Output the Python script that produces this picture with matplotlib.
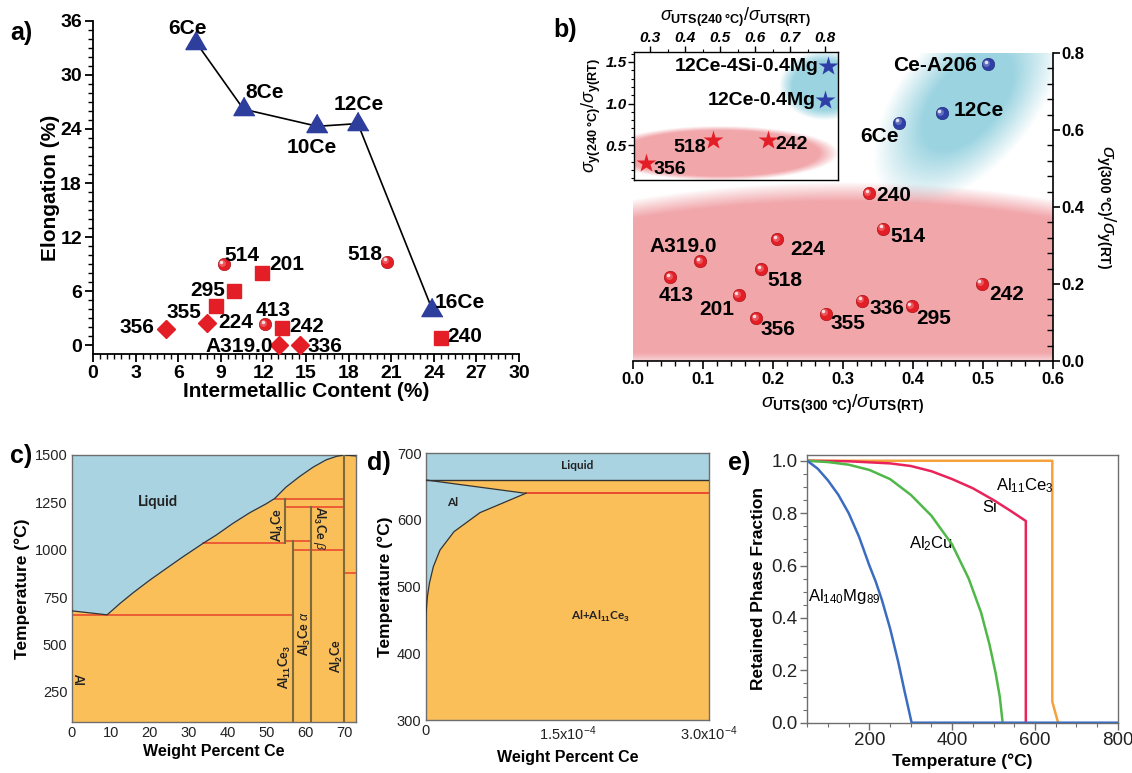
import numpy as np
import matplotlib
matplotlib.use('Agg')
import matplotlib.pyplot as plt
from matplotlib import transforms as mtrans
from matplotlib.ticker import MultipleLocator, FixedLocator

plt.rcParams['font.family'] = ['Liberation Sans', 'DejaVu Sans']
plt.rcParams['mathtext.fontset'] = 'custom'
plt.rcParams['mathtext.rm'] = 'Liberation Sans'
plt.rcParams['mathtext.it'] = 'Liberation Sans:italic'
plt.rcParams['mathtext.bf'] = 'Liberation Sans:bold'
plt.rcParams['mathtext.sf'] = 'Liberation Sans'

# ---------------- data: panel a ----------------
ce_names = ['6Ce', '8Ce', '10Ce', '12Ce', '16Ce']
ce_im = [7.27, 10.6, 15.8, 18.65, 23.9]
ce_el = [33.6, 26.2, 24.3, 24.6, 3.9]

circ_names = ['514', '518', '413']
circ_im = [9.2, 20.7, 12.1]
circ_el = [9.0, 9.26, 2.33]

sq_names = ['201', '295', '224', '242', '240']
sq_im = [11.9, 9.93, 8.67, 13.3, 24.5]
sq_el = [8.0, 6.04, 4.33, 1.93, 0.8]

dia_names = ['356', '355', 'A319.0', '336']
dia_im = [5.16, 8.0, 13.1, 14.6]
dia_el = [1.74, 2.5, 0.0, 0.0]

# ---------------- data: panel b ----------------
conv_names = ['240', '514', '224', 'A319.0', '518', '413', '201', '356', '355', '336', '295', '242']
conv_uts300 = [0.337, 0.357, 0.206, 0.096, 0.183, 0.053, 0.151, 0.176, 0.275, 0.327, 0.398, 0.498]
conv_y300 = [0.436, 0.344, 0.316, 0.259, 0.238, 0.217, 0.171, 0.111, 0.123, 0.157, 0.142, 0.201]

alce_names = ['Ce-A206', '12Ce', '6Ce']
alce_uts300 = [0.507, 0.441, 0.380]
alce_y300 = [0.771, 0.644, 0.619]

ins_conv_names = ['356', '518', '242']
ins_conv_uts240 = [0.289, 0.479, 0.638]
ins_conv_y240 = [0.287, 0.56, 0.56]

ins_alce_names = ['12Ce-4Si-0.4Mg', '12Ce-0.4Mg']
ins_alce_uts240 = [0.808, 0.80]
ins_alce_y240 = [1.45, 1.04]

# ---------------- data: panel c (Al-Ce phase diagram) ----------------
liq_wt = [0, 9.1, 12.4, 15.8, 20.1, 24.3, 28.6, 33.7, 37.1, 41.4, 45.7, 50.0, 52.1,
          55.0, 58.5, 62.0, 65.3, 68.0, 70.0, 73.0]
liq_T = [677, 656, 716, 773, 840, 901, 963, 1033, 1077, 1139, 1195, 1243, 1270,
         1330, 1386, 1436, 1474, 1493, 1500, 1495]
red_T = [655, 1033, 1047, 998, 1224, 1266, 878]
red_x0 = [0, 33.7, 54.8, 56.8, 54.8, 52.1, 70.0]
red_x1 = [56.8, 54.8, 61.5, 70.0, 70.0, 70.0, 73.0]
comp_x = [54.8, 56.8, 61.5, 70.0]
comp_T0 = [1033, 90, 90, 90]
comp_T1 = [1266, 1047, 1224, 1500]

# ---------------- data: panel d ----------------
d_liq_T = 660
d_eut_T = 640
solvus_x = [1.06e-4, 0.575e-4, 0.30e-4, 0.152e-4, 0.081e-4, 0.039e-4, 0.018e-4, 0.0035e-4, 0.0]
solvus_T = [640, 611, 582.5, 555, 530, 505, 485, 460, 420]

# ---------------- data: panel e ----------------
mg_T = [50, 75, 100, 125, 150, 175, 200, 215, 230, 250, 270, 285, 295, 302, 800]
mg_f = [1.0, 0.97, 0.925, 0.87, 0.80, 0.71, 0.60, 0.54, 0.47, 0.36, 0.23, 0.12, 0.05, 0.0, 0.0]
cu_T = [50, 100, 150, 200, 250, 300, 350, 400, 440, 470, 490, 505, 515, 522]
cu_f = [1.0, 0.995, 0.985, 0.965, 0.93, 0.87, 0.79, 0.68, 0.55, 0.42, 0.30, 0.19, 0.10, 0.0]
si_T = [50, 150, 250, 300, 350, 400, 450, 500, 540, 578, 578]
si_f = [1.0, 0.998, 0.99, 0.98, 0.96, 0.93, 0.895, 0.85, 0.81, 0.77, 0.0]
ce_T = [50, 642, 642, 656]
ce_f = [1.0, 1.0, 0.08, 0.0]

# ================= figure =================
W, H = 1132, 773
fig = plt.figure(figsize=(W / 100, H / 100), dpi=100)


def px_axes(l, t, r, b):
    return fig.add_axes([l / W, 1 - b / H, (r - l) / W, (b - t) / H])


RED = '#e41e26'
BLUE = '#2d3e9c'


def spheres(ax, x, y, color, ms, z=5):
    ax.plot(x, y, 'o', ms=ms, color=color, mec='#9a0e12' if color == RED else '#1a2566',
            mew=0.4, ls='none', zorder=z)
    o1 = mtrans.offset_copy(ax.transData, fig=fig, x=-ms * 0.12, y=ms * 0.12, units='points')
    ax.plot(x, y, 'o', ms=ms * 0.55, color='white', alpha=0.25, mec='none', ls='none',
            transform=o1, zorder=z + 1)
    o2 = mtrans.offset_copy(ax.transData, fig=fig, x=-ms * 0.18, y=ms * 0.18, units='points')
    ax.plot(x, y, 'o', ms=ms * 0.28, color='white', alpha=0.8, mec='none', ls='none',
            transform=o2, zorder=z + 2)


def shade(ax, ext, alpha, rgb, z=0):
    img = np.zeros(alpha.shape + (4,))
    img[..., 0] = rgb[0]
    img[..., 1] = rgb[1]
    img[..., 2] = rgb[2]
    img[..., 3] = np.clip(alpha, 0, 1)
    ax.imshow(img, extent=ext, origin='lower', aspect='auto', interpolation='bilinear', zorder=z)


# ---------------- panel a ----------------
axA = px_axes(93, 21, 519, 354)
axA.plot(ce_im, ce_el, color='black', lw=1.2, zorder=3)
tri = [(0, 0.577), (-0.5, -0.289), (0.5, -0.289)]
axA.plot(ce_im, ce_el, marker=tri, ms=17.5, color=BLUE, ls='none', zorder=4)
axA.plot(sq_im, sq_el, 's', ms=10, color=RED, ls='none', zorder=4)
axA.plot(dia_im, dia_el, 'D', ms=9.5, color=RED, ls='none', zorder=4)
spheres(axA, circ_im, circ_el, RED, 9)

offA = {'6Ce': (-6, 10), '8Ce': (15, 12), '10Ce': (-4, -15), '12Ce': (1, 14), '16Ce': (20, 5),
        '514': (13, 6), '518': (-16, 5), '413': (6, 10),
        '201': (18, 6), '295': (-19, 0), '224': (14, -12), '242': (18, 1), '240': (17, 1),
        '356': (-21, 1), '355': (-16, 7), 'A319.0': (-29, -1), '336': (18, -1)}
for names, xs, ys in [(ce_names, ce_im, ce_el), (circ_names, circ_im, circ_el),
                      (sq_names, sq_im, sq_el), (dia_names, dia_im, dia_el)]:
    for n, x, y in zip(names, xs, ys):
        axA.annotate(n, (x, y), xytext=offA[n], textcoords='offset points', ha='center',
                     va='center', fontsize=15, fontweight='bold', zorder=6)

axA.set_xlim(0, 30)
axA.set_ylim(-1, 36)
for s in ['top', 'right']:
    axA.spines[s].set_visible(False)
for s in ['left', 'bottom']:
    axA.spines[s].set_linewidth(1.3)
axA.xaxis.set_major_locator(MultipleLocator(3))
axA.xaxis.set_minor_locator(MultipleLocator(0.5))
axA.yaxis.set_major_locator(FixedLocator([0, 6, 12, 18, 24, 30, 36]))
axA.yaxis.set_minor_locator(FixedLocator(list(range(0, 37))))
axA.tick_params(which='major', direction='out', length=6, width=1.3, labelsize=14, pad=2)
axA.tick_params(which='minor', direction='out', length=3.5, width=1.0)
for lab in axA.get_xticklabels() + axA.get_yticklabels():
    lab.set_fontweight('bold')
axA.set_xlabel('Intermetallic Content (%)', fontsize=15, fontweight='bold', labelpad=0)
axA.set_ylabel('Elongation (%)', fontsize=15, fontweight='bold', labelpad=0)

# ---------------- panel b ----------------
axB = px_axes(633, 53, 1053, 361)
gx = np.linspace(0, 0.6, 300)
gy = np.linspace(0, 0.8, 300)
GX, GY = np.meshgrid(gx, gy)
edge = 0.465 - 0.045 * ((GX - 0.3) / 0.3) ** 2
a_pink = np.clip((edge - GY) / 0.05, 0, 1) ** 0.9
a_pink *= np.clip((GY + 0.02) / 0.04, 0, 1)
shade(axB, [0, 0.6, 0, 0.8], 0.92 * a_pink, (0.945, 0.62, 0.64), z=0)
U = (GX - 0.479) / 0.6 * 420
V = (GY - 0.678) / 0.8 * 308
th = np.deg2rad(50)
P = U * np.cos(th) + V * np.sin(th)
Q = -U * np.sin(th) + V * np.cos(th)
D = np.sqrt((P / 118) ** 2 + (Q / 64) ** 2)
a_cy = np.clip((1.05 - D) / 0.55, 0, 1)
shade(axB, [0, 0.6, 0, 0.8], 0.85 * a_cy, (0.54, 0.80, 0.86), z=0.5)

spheres(axB, conv_uts300, conv_y300, RED, 9)
spheres(axB, alce_uts300, alce_y300, '#2f3fa8', 9)
offB = {'240': (18, -2), '514': (18, -6), '224': (22, -7), 'A319.0': (-12, 11), '518': (17, -8),
        '413': (4, -13), '201': (-16, -10), '356': (16, -8), '355': (16, -7), '336': (18, -6),
        '295': (16, -9), '242': (18, -8), 'Ce-A206': (-38, -1), '12Ce': (27, 2), '6Ce': (-14, -10)}
for names, xs, ys in [(conv_names, conv_uts300, conv_y300), (alce_names, alce_uts300, alce_y300)]:
    for n, x, y in zip(names, xs, ys):
        axB.annotate(n, (x, y), xytext=offB[n], textcoords='offset points', ha='center',
                     va='center', fontsize=15, fontweight='bold', zorder=8)
axB.set_xlim(0, 0.6)
axB.set_ylim(0, 0.8)
for s in ['top', 'left']:
    axB.spines[s].set_visible(False)
for s in ['right', 'bottom']:
    axB.spines[s].set_linewidth(1.2)
axB.yaxis.tick_right()
axB.yaxis.set_label_position('right')
axB.xaxis.set_major_locator(MultipleLocator(0.1))
axB.xaxis.set_minor_locator(MultipleLocator(0.02))
axB.yaxis.set_major_locator(MultipleLocator(0.2))
axB.yaxis.set_minor_locator(MultipleLocator(0.04))
axB.xaxis.set_major_formatter(matplotlib.ticker.FormatStrFormatter('%.1f'))
axB.yaxis.set_major_formatter(matplotlib.ticker.FormatStrFormatter('%.1f'))
axB.tick_params(axis='x', which='major', direction='out', length=6, width=1.2, labelsize=12, pad=2)
axB.tick_params(axis='x', which='minor', direction='out', length=3.5, width=1.0)
axB.tick_params(axis='y', which='major', direction='out', length=5, width=1.2, labelsize=12, pad=1)
axB.tick_params(axis='y', which='minor', direction='in', length=4, width=1.0)
for lab in axB.get_xticklabels() + axB.get_yticklabels():
    lab.set_fontweight('bold')
axB.set_xlabel(r'$\sigma_{\mathbf{UTS(300\ °C)}}/\sigma_{\mathbf{UTS(RT)}}$', fontsize=14, labelpad=4)
axB.set_ylabel(r'$\sigma_{\mathbf{y(300\ °C)}}/\sigma_{\mathbf{y(RT)}}$', fontsize=14,
               rotation=-90, labelpad=24)

# inset
axI = px_axes(634, 52, 838, 180)
axI.set_facecolor('white')
ix = np.linspace(0.254, 0.837, 250)
iy = np.linspace(0.08, 1.62, 250)
IX, IY = np.meshgrid(ix, iy)
Dp = ((IX - 0.5) / 0.34) ** 2 + ((IY - 0.40) / 0.33) ** 2
shade(axI, [0.254, 0.837, 0.08, 1.62], 0.92 * np.clip((1 - Dp) / 0.3, 0, 1), (0.945, 0.62, 0.64))
Dc = ((IX - 0.80) / 0.13) ** 2 + ((IY - 1.22) / 0.42) ** 2
shade(axI, [0.254, 0.837, 0.08, 1.62], 0.85 * np.clip((1 - Dc) / 0.5, 0, 1), (0.54, 0.80, 0.86), z=0.5)
axI.plot(ins_conv_uts240, ins_conv_y240, '*', ms=15, color=RED, mec='none', ls='none', zorder=5)
axI.plot(ins_alce_uts240, ins_alce_y240, '*', ms=15, color='#2f3fa8', mec='none', ls='none', zorder=5)
offI = {'12Ce-4Si-0.4Mg': (-7, 0, 'right'), '12Ce-0.4Mg': (-7, 0, 'right'),
        '518': (-5, -5, 'right'), '242': (5, -3, 'left'), '356': (5, -5, 'left')}
for names, xs, ys in [(ins_conv_names, ins_conv_uts240, ins_conv_y240),
                      (ins_alce_names, ins_alce_uts240, ins_alce_y240)]:
    for n, x, y in zip(names, xs, ys):
        dx, dy, ha = offI[n]
        axI.annotate(n, (x, y), xytext=(dx, dy), textcoords='offset points', ha=ha,
                     va='center', fontsize=14, fontweight='bold', zorder=8)
axI.set_xlim(0.254, 0.837)
axI.set_ylim(0.08, 1.62)
axI.xaxis.tick_top()
axI.xaxis.set_label_position('top')
axI.xaxis.set_major_locator(MultipleLocator(0.1))
axI.xaxis.set_minor_locator(MultipleLocator(0.05))
axI.yaxis.set_major_locator(FixedLocator([0.5, 1.0, 1.5]))
axI.yaxis.set_minor_locator(MultipleLocator(0.1))
axI.xaxis.set_major_formatter(matplotlib.ticker.FormatStrFormatter('%.1f'))
axI.yaxis.set_major_formatter(matplotlib.ticker.FormatStrFormatter('%.1f'))
axI.tick_params(which='major', direction='out', length=4, width=1.0, labelsize=11, pad=1)
axI.tick_params(which='minor', direction='out', length=2.5, width=0.8)
for lab in axI.get_xticklabels() + axI.get_yticklabels():
    lab.set_fontweight('bold')
    lab.set_fontstyle('italic')
for s in axI.spines.values():
    s.set_linewidth(1.0)
axI.set_xlabel(r'$\sigma_{\mathbf{UTS(240\ °C)}}/\sigma_{\mathbf{UTS(RT)}}$', fontsize=13, labelpad=7)
axI.set_ylabel(r'$\sigma_{\mathbf{y(240\ °C)}}/\sigma_{\mathbf{y(RT)}}$', fontsize=13, labelpad=2)

# ---------------- panel c ----------------
LIQ = '#a9d3e1'
SOL = '#fbbf59'
GRID = '#6e6e6e'
axC = px_axes(71.7, 455, 356, 722)
axC.set_facecolor(SOL)
axC.fill_between(liq_wt, liq_T, 1500, color=LIQ, zorder=1, lw=0)
axC.plot(liq_wt, liq_T, color='#333333', lw=0.9, zorder=3)
for T, x0, x1 in zip(red_T, red_x0, red_x1):
    axC.plot([x0, x1], [T, T], color='#e8412c', lw=1.1, zorder=2)
for x, t0, t1 in zip(comp_x, comp_T0, comp_T1):
    axC.plot([x, x], [t0, t1], color='#7a6a3c', lw=1.5, zorder=4)
PH = dict(family=['Lato', 'DejaVu Sans'], fontweight='bold', color='#222222')
axC.text(22.2, 1253, 'Liquid', fontsize=10.5, ha='center', va='center', **PH)
axC.text(1.6, 320, 'Al', fontsize=9, ha='center', va='center', rotation=-90, **PH)
axC.text(53.0, 1130, r'Al$_\mathbf{4}$Ce', fontsize=9, ha='center', va='center', rotation=90, **PH)
axC.text(63.6, 1113, r'Al$_\mathbf{3}$Ce $\beta$', fontsize=9, ha='center', va='center', rotation=-90, **PH)
axC.text(54.8, 382, r'Al$_\mathbf{11}$Ce$_\mathbf{3}$', fontsize=9, ha='center', va='center', rotation=90, **PH)
axC.text(59.8, 558, r'Al$_\mathbf{3}$Ce $\alpha$', fontsize=9, ha='center', va='center', rotation=90, **PH)
axC.text(68.1, 438, r'Al$_\mathbf{2}$Ce', fontsize=9, ha='center', va='center', rotation=90, **PH)
axC.set_xlim(0, 73)
axC.set_ylim(90, 1500)
axC.set_xticks([0, 10, 20, 30, 40, 50, 60, 70])
axC.set_yticks([250, 500, 750, 1000, 1250, 1500])
axC.tick_params(length=0, labelsize=10.5, pad=3, colors='#222222')
for s in axC.spines.values():
    s.set_color(GRID)
    s.set_linewidth(1.0)
axC.set_xlabel('Weight Percent Ce', fontsize=11.5, fontweight='bold', labelpad=3)
axC.set_ylabel('Temperature (°C)', fontsize=12.5, fontweight='bold', labelpad=3)

# ---------------- panel d ----------------
axD = px_axes(425.7, 453.3, 709, 720)
axD.set_facecolor(SOL)
axD.fill_between([0, 3e-4], [d_liq_T, d_liq_T], 700, color=LIQ, lw=0, zorder=1)
al_poly_x = [0.0, solvus_x[0]] + solvus_x[1:]
al_poly_T = [d_liq_T, d_eut_T] + solvus_T[1:]
axD.fill(al_poly_x, al_poly_T, color=LIQ, lw=0, zorder=1)
axD.plot([0, 3e-4], [d_liq_T, d_liq_T], color='#333333', lw=1.0, zorder=3)
axD.plot([0, solvus_x[0]], [d_liq_T, d_eut_T], color='#333333', lw=0.9, zorder=3)
axD.plot(solvus_x, solvus_T, color='#333333', lw=0.9, zorder=3)
axD.plot([solvus_x[0], 3e-4], [d_eut_T, d_eut_T], color='#e8412c', lw=1.3, zorder=2)
axD.text(1.6e-4, 681, 'Liquid', fontsize=8.5, ha='center', va='center', **PH)
axD.text(0.28e-4, 626, 'Al', fontsize=8.5, ha='center', va='center', **PH)
axD.text(1.85e-4, 455, r'Al+Al$_\mathbf{11}$Ce$_\mathbf{3}$', fontsize=8.5, ha='center', va='center', **PH)
axD.set_xlim(0, 3e-4)
axD.set_ylim(300, 700)
axD.set_xticks([0, 1.5e-4, 3e-4])
axD.set_xticklabels(['0', r'1.5x10$^{-4}$', r'3.0x10$^{-4}$'])
axD.set_yticks([300, 400, 500, 600, 700])
axD.tick_params(length=0, labelsize=10.5, pad=3, colors='#222222')
for s in axD.spines.values():
    s.set_color(GRID)
    s.set_linewidth(1.0)
axD.set_xlabel('Weight Percent Ce', fontsize=11.5, fontweight='bold', labelpad=5)
axD.set_ylabel('Temperature (°C)', fontsize=12.5, fontweight='bold', labelpad=3)

# ---------------- panel e ----------------
axE = px_axes(807.3, 455, 1117.7, 722.7)
axE.plot(ce_T, ce_f, color='#f6a23c', lw=1.8, zorder=3)
axE.plot(si_T, si_f, color='#e8245a', lw=1.8, zorder=4)
axE.plot(cu_T, cu_f, color='#4fb848', lw=1.8, zorder=4)
axE.plot(mg_T, mg_f, color='#3a6cc0', lw=1.8, zorder=5)
axE.text(575, 0.905, r'Al$_{11}$Ce$_3$', fontsize=12, ha='center', va='center')
axE.text(490, 0.82, 'Si', fontsize=12, ha='center', va='center')
axE.text(348, 0.685, r'Al$_2$Cu', fontsize=12, ha='center', va='center')
axE.text(140, 0.48, r'Al$_{140}$Mg$_{89}$', fontsize=12, ha='center', va='center')
axE.set_xlim(50, 800)
axE.set_ylim(0, 1.022)
axE.xaxis.set_major_locator(FixedLocator([200, 400, 600, 800]))
axE.xaxis.set_minor_locator(MultipleLocator(50))
axE.yaxis.set_major_locator(MultipleLocator(0.2))
axE.yaxis.set_minor_locator(MultipleLocator(0.05))
axE.yaxis.set_major_formatter(matplotlib.ticker.FormatStrFormatter('%.1f'))
axE.tick_params(which='major', direction='out', length=5, width=1.0, labelsize=13.5, pad=2,
                color=GRID, labelcolor='#222222')
axE.tick_params(which='minor', direction='out', length=3, width=0.8, color=GRID)
for s in axE.spines.values():
    s.set_color(GRID)
    s.set_linewidth(1.0)
axE.set_xlabel('Temperature (°C)', fontsize=12.5, fontweight='bold', labelpad=3)
axE.set_ylabel('Retained Phase Fraction', fontsize=12.5, fontweight='bold', labelpad=4)

# ---------------- panel letters ----------------
for t, x, y in [('a)', 10, 33), ('b)', 553, 30), ('c)', 10, 456), ('d)', 367, 463), ('e)', 728, 463)]:
    fig.text(x / W, 1 - y / H, t, fontsize=18, fontweight='bold', ha='left', va='center')

fig.savefig('out.png', dpi=100)
